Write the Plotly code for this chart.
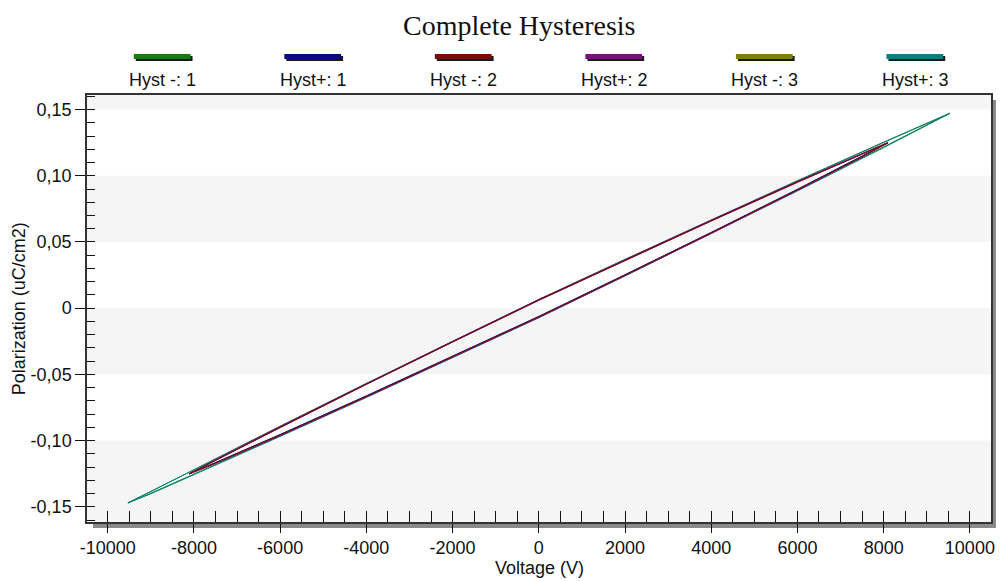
import plotly.graph_objects as go

# ---------------- data ----------------
series_names = ["Hyst -: 1", "Hyst+: 1", "Hyst -: 2", "Hyst+: 2", "Hyst -: 3", "Hyst+: 3"]
series_colors = ["#0f7f12", "#0a0a86", "#7e0a0a", "#800a80", "#7f7f0a", "#0a8080"]

v_big = [9530, 9000, 8000, 6000, 4000, 2000, 0, -2000, -4000, -6000, -8000, -9000, -9530,
         -9000, -8000, -6000, -4000, -2000, 0, 2000, 4000, 6000, 8000, 9000, 9530]
v_small = [8100, 7500, 6000, 4000, 2000, 0, -2000, -4000, -6000, -7500, -8100,
           -7500, -6000, -4000, -2000, 0, 2000, 4000, 6000, 7500, 8100]

p_hyst_m1 = [0.1472, 0.1398, 0.1254, 0.0963, 0.0668, 0.0369, 0.0066, -0.0249, -0.0568, -0.0891, -0.1218, -0.1382, -0.1472,
             -0.1398, -0.1254, -0.0963, -0.0668, -0.0369, -0.0066, 0.0249, 0.0568, 0.0891, 0.1218, 0.1382, 0.1472]
p_hyst_p1 = [0.1250, 0.1166, 0.0954, 0.0662, 0.0365, 0.0062, -0.0253, -0.0572, -0.0898, -0.1148, -0.1250,
             -0.1166, -0.0954, -0.0662, -0.0365, -0.0062, 0.0253, 0.0572, 0.0898, 0.1148, 0.1250]
p_hyst_m2 = [0.1248, 0.1163, 0.0950, 0.0658, 0.0361, 0.0059, -0.0256, -0.0576, -0.0903, -0.1153, -0.1248,
             -0.1170, -0.0959, -0.0667, -0.0369, -0.0066, 0.0249, 0.0568, 0.0893, 0.1143, 0.1248]
p_hyst_p2 = [0.1252, 0.1169, 0.0957, 0.0665, 0.0368, 0.0065, -0.0250, -0.0569, -0.0894, -0.1144, -0.1252,
             -0.1173, -0.0963, -0.0671, -0.0373, -0.0070, 0.0245, 0.0564, 0.0890, 0.1141, 0.1252]
p_hyst_m3 = [0.1249, 0.1165, 0.0952, 0.0660, 0.0363, 0.0060, -0.0255, -0.0574, -0.0900, -0.1150, -0.1249,
             -0.1168, -0.0956, -0.0664, -0.0367, -0.0064, 0.0251, 0.0570, 0.0896, 0.1146, 0.1249]
p_hyst_p3 = [0.1470, 0.1396, 0.1251, 0.0960, 0.0665, 0.0366, 0.0063, -0.0253, -0.0573, -0.0897, -0.1225, -0.1388, -0.1470,
             -0.1402, -0.1259, -0.0969, -0.0675, -0.0376, -0.0073, 0.0243, 0.0562, 0.0885, 0.1212, 0.1377, 0.1470]

series_v = [v_big, v_small, v_small, v_small, v_small, v_big]
series_p = [p_hyst_m1, p_hyst_p1, p_hyst_m2, p_hyst_p2, p_hyst_m3, p_hyst_p3]
draw_order = [0, 5, 4, 1, 3, 2]

x_tick_vals = [-10000, -8000, -6000, -4000, -2000, 0, 2000, 4000, 6000, 8000, 10000]
x_tick_text = ["-10000", "-8000", "-6000", "-4000", "-2000", "0", "2000", "4000", "6000", "8000", "10000"]
y_tick_vals = [-0.15, -0.10, -0.05, 0, 0.05, 0.10, 0.15]
y_tick_text = ["-0,15", "-0,10", "-0,05", "0", "0,05", "0,10", "0,15"]
x_minor_vals = list(range(-10000, 10001, 500))
y_minor_vals = [round(i * 0.01, 2) for i in range(-16, 17)]

x_range = [-10480, 10490]
y_range = [-0.1615, 0.161]
band_ranges = [(0.15, 0.161), (0.05, 0.10), (-0.05, 0.0), (-0.15, -0.10), (-0.1615, -0.15)]

title_text = "Complete Hysteresis"
x_title = "Voltage (V)"
y_title = "Polarization (uC/cm2)"

# ---------------- layout geometry (px) ----------------
W, H = 1004, 581
L, R, T, B = 87, 995, 95, 522
PW, PH = R - L, B - T


def px_x(px):
    return (px - L) / PW


def px_y(py):
    return (B - py) / PH


FONT = "Arial, Liberation Sans, sans-serif"

fig = go.Figure()
for i in draw_order:
    fig.add_trace(go.Scatter(x=series_v[i], y=series_p[i], mode="lines", name=series_names[i],
                             line=dict(color=series_colors[i], width=1), showlegend=False))
# carrier for overlay tick axes
fig.add_trace(go.Scatter(x=[], y=[], xaxis="x2", yaxis="y2", showlegend=False, hoverinfo="skip"))

shapes = []
# background bands
for y0, y1 in band_ranges:
    shapes.append(dict(type="rect", xref="paper", yref="y", x0=0, x1=1, y0=y0, y1=y1,
                       fillcolor="#f5f5f5", line=dict(width=0), layer="below"))
# frame shadow
shapes.append(dict(type="rect", xref="paper", yref="paper", x0=px_x(93), x1=px_x(1000),
                   y0=px_y(528), y1=px_y(523.5), fillcolor="#8a8a8a", line=dict(width=0), layer="below"))
shapes.append(dict(type="rect", xref="paper", yref="paper", x0=px_x(996.5), x1=px_x(1000),
                   y0=px_y(528), y1=px_y(100), fillcolor="#8a8a8a", line=dict(width=0), layer="below"))

annotations = []
# custom legend
spacing = 151.2
for i, (name, col) in enumerate(zip(series_names, series_colors)):
    cx = 541 + (i - 2.5) * spacing
    shapes.append(dict(type="rect", xref="paper", yref="paper", x0=px_x(cx - 27), x1=px_x(cx + 30),
                       y0=px_y(61), y1=px_y(56), fillcolor="#1a1a1a", line=dict(width=0)))
    shapes.append(dict(type="rect", xref="paper", yref="paper", x0=px_x(cx - 29), x1=px_x(cx + 28),
                       y0=px_y(59), y1=px_y(54), fillcolor=col, line=dict(width=0)))
    annotations.append(dict(text=name, xref="paper", yref="paper", x=px_x(cx), y=px_y(80),
                            xanchor="center", yanchor="middle", showarrow=False,
                            font=dict(family=FONT, size=18, color="#111")))

annotations.append(dict(text=title_text, xref="paper", yref="paper", x=px_x(521), y=px_y(25),
                        xanchor="center", yanchor="middle", showarrow=False,
                        font=dict(family="Times New Roman, Liberation Serif, serif", size=28, color="#111")))
annotations.append(dict(text=x_title, xref="paper", yref="paper", x=px_x(541), y=px_y(568),
                        xanchor="center", yanchor="middle", showarrow=False,
                        font=dict(family=FONT, size=18, color="#111")))
annotations.append(dict(text=y_title, xref="paper", yref="paper", x=px_x(18.5), y=px_y(308.5),
                        xanchor="center", yanchor="middle", showarrow=False, textangle=-90,
                        font=dict(family=FONT, size=18, color="#111")))

fig.update_layout(
    width=W, height=H, autosize=False,
    margin=dict(l=L, r=W - R, t=T, b=H - B, pad=0),
    paper_bgcolor="white", plot_bgcolor="white",
    showlegend=False,
    shapes=shapes, annotations=annotations,
    xaxis=dict(range=x_range, tickmode="array", tickvals=x_tick_vals, ticktext=x_tick_text,
               ticks="outside", ticklen=9, tickwidth=1, tickcolor="#111",
               showgrid=False, zeroline=False, showline=True, mirror=True,
               linecolor="#333", linewidth=1.5,
               tickfont=dict(family=FONT, size=18, color="#111")),
    yaxis=dict(range=y_range, tickmode="array", tickvals=y_tick_vals, ticktext=y_tick_text,
               ticks="outside", ticklen=10, tickwidth=1, tickcolor="#111",
               showgrid=False, zeroline=False, showline=True, mirror=True,
               linecolor="#333", linewidth=1.5,
               tickfont=dict(family=FONT, size=18, color="#111")),
    xaxis2=dict(range=x_range, overlaying="x", anchor="y2", side="bottom", tickmode="array",
                tickvals=x_minor_vals, ticks="inside", ticklen=11, tickwidth=1, tickcolor="#111",
                showticklabels=False, showgrid=False, zeroline=False, showline=False),
    yaxis2=dict(range=y_range, overlaying="y", anchor="x2", side="left", tickmode="array",
                tickvals=y_minor_vals, ticks="inside", ticklen=8, tickwidth=1, tickcolor="#111",
                showticklabels=False, showgrid=False, zeroline=False, showline=False),
)

fig.write_html("out.html")
